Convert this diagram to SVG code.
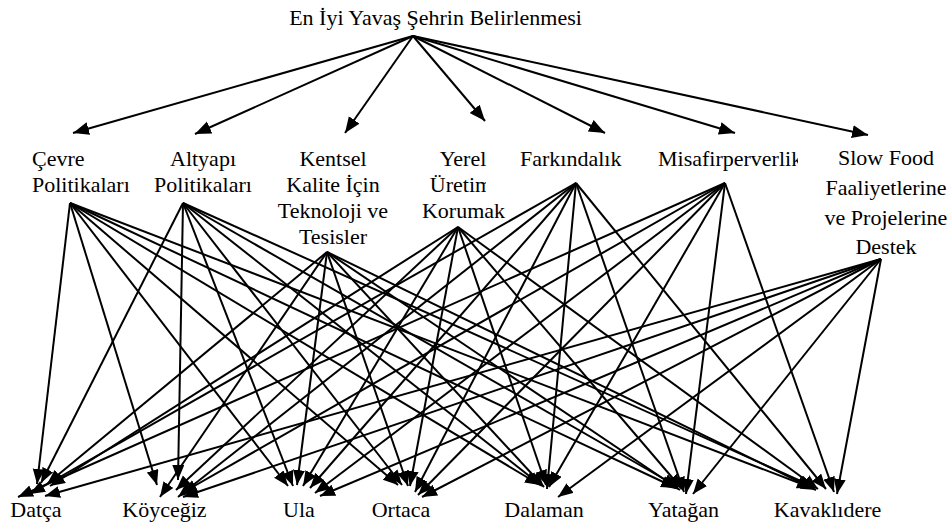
<svg xmlns="http://www.w3.org/2000/svg" width="952" height="529" viewBox="0 0 952 529">
<style>
.txt text{font-family:'Liberation Serif','DejaVu Serif',serif;font-size:22px;fill:#000}
.c{text-anchor:middle}
.e line{stroke:#000;stroke-width:2;fill:none}
.t{marker-end:url(#ahT)}
.b{marker-end:url(#ahB)}
</style>
<defs>
<marker id="ahT" markerUnits="userSpaceOnUse" markerWidth="18" markerHeight="14" refX="16" refY="6.5" orient="auto"><path d="M0,0 L16,6.5 L0,13 z" fill="#000"/></marker>
<marker id="ahB" markerUnits="userSpaceOnUse" markerWidth="17" markerHeight="13" refX="15" refY="6" orient="auto"><path d="M0,0 L15,6 L0,12 z" fill="#000"/></marker>
<clipPath id="clipY"><rect x="400" y="140" width="86" height="120"/></clipPath>
<clipPath id="clipM"><rect x="640" y="140" width="158" height="40"/></clipPath>
</defs>
<rect width="952" height="529" fill="#fff"/>
<g class="txt" font-family="Liberation Serif, serif" font-size="22">
<g id="goal"><text class="c" x="435.5" y="25">En İyi Yavaş Şehrin Belirlenmesi</text></g>
<g id="c1"><text x="32" y="166">Çevre</text><text x="32" y="192">Politikaları</text></g>
<g id="c2"><text class="c" x="203" y="166">Altyapı</text><text class="c" x="203" y="192">Politikaları</text></g>
<g id="c3"><text class="c" x="333" y="166">Kentsel</text><text class="c" x="333" y="192">Kalite İçin</text><text class="c" x="333" y="218">Teknoloji ve</text><text class="c" x="333" y="244">Tesisler</text></g>
<g id="c4"><text class="c" x="463" y="166">Yerel</text><text class="c" x="461" y="192" clip-path="url(#clipY)">Üretim</text><text class="c" x="463.5" y="218">Korumak</text></g>
<g id="c5"><text x="520" y="166">Farkındalık</text></g>
<g id="c6"><text x="658" y="166" clip-path="url(#clipM)">Misafirperverlik</text></g>
<g id="c7"><text class="c" x="886" y="165">Slow Food</text><text class="c" x="886" y="195">Faaliyetlerine</text><text class="c" x="886" y="225">ve Projelerine</text><text class="c" x="886" y="254">Destek</text></g>
<g id="a1"><text class="c" x="36" y="517">Datça</text></g>
<g id="a2"><text class="c" x="164.5" y="517">Köyceğiz</text></g>
<g id="a3"><text class="c" x="299" y="517">Ula</text></g>
<g id="a4"><text class="c" x="401" y="517">Ortaca</text></g>
<g id="a5"><text class="c" x="544" y="517">Dalaman</text></g>
<g id="a6"><text class="c" x="683.5" y="517">Yatağan</text></g>
<g id="a7"><text class="c" x="827.5" y="517">Kavaklıdere</text></g>
</g>
<g id="edges" class="e">
<line class="t" x1="413" y1="36" x2="73" y2="133"/>
<line class="t" x1="413" y1="36" x2="195" y2="134"/>
<line class="t" x1="413" y1="36" x2="345" y2="133"/>
<line class="t" x1="413" y1="36" x2="485" y2="121"/>
<line class="t" x1="413" y1="36" x2="605" y2="133"/>
<line class="t" x1="413" y1="36" x2="735" y2="133"/>
<line class="t" x1="413" y1="36" x2="868" y2="135"/>
<line class="b" x1="70" y1="203" x2="37" y2="484"/>
<line class="b" x1="70" y1="203" x2="157" y2="485"/>
<line class="b" x1="70" y1="203" x2="288" y2="486"/>
<line class="b" x1="70" y1="203" x2="398" y2="485"/>
<line class="b" x1="70" y1="203" x2="540" y2="485"/>
<line class="b" x1="70" y1="203" x2="676" y2="488"/>
<line class="b" x1="70" y1="203" x2="812" y2="488"/>
<line class="b" x1="183" y1="203" x2="41" y2="483"/>
<line class="b" x1="183" y1="203" x2="178" y2="480"/>
<line class="b" x1="183" y1="203" x2="293" y2="486"/>
<line class="b" x1="183" y1="203" x2="402" y2="485"/>
<line class="b" x1="183" y1="203" x2="542" y2="486"/>
<line class="b" x1="183" y1="203" x2="678" y2="487"/>
<line class="b" x1="183" y1="203" x2="814" y2="487"/>
<line class="b" x1="327" y1="252" x2="47" y2="484"/>
<line class="b" x1="327" y1="252" x2="160" y2="497"/>
<line class="b" x1="327" y1="252" x2="297" y2="485"/>
<line class="b" x1="327" y1="252" x2="408" y2="486"/>
<line class="b" x1="327" y1="252" x2="544" y2="487"/>
<line class="b" x1="327" y1="252" x2="680" y2="490"/>
<line class="b" x1="327" y1="252" x2="816" y2="490"/>
<line class="b" x1="458" y1="227" x2="50" y2="486"/>
<line class="b" x1="458" y1="227" x2="176" y2="490"/>
<line class="b" x1="458" y1="227" x2="303" y2="486"/>
<line class="b" x1="458" y1="227" x2="410" y2="486"/>
<line class="b" x1="458" y1="227" x2="546" y2="485"/>
<line class="b" x1="458" y1="227" x2="682" y2="489"/>
<line class="b" x1="458" y1="227" x2="818" y2="489"/>
<line class="b" x1="576" y1="183" x2="30" y2="494"/>
<line class="b" x1="576" y1="183" x2="178" y2="497"/>
<line class="b" x1="576" y1="183" x2="310" y2="488"/>
<line class="b" x1="576" y1="183" x2="415" y2="492"/>
<line class="b" x1="576" y1="183" x2="547" y2="489"/>
<line class="b" x1="576" y1="183" x2="684" y2="492"/>
<line class="b" x1="576" y1="183" x2="826" y2="489"/>
<line class="b" x1="725" y1="183" x2="18" y2="497"/>
<line class="b" x1="725" y1="183" x2="182" y2="493"/>
<line class="b" x1="725" y1="183" x2="315" y2="493"/>
<line class="b" x1="725" y1="183" x2="418" y2="495"/>
<line class="b" x1="725" y1="183" x2="549" y2="487"/>
<line class="b" x1="725" y1="183" x2="686" y2="494"/>
<line class="b" x1="725" y1="183" x2="834" y2="492"/>
<line class="b" x1="881" y1="259" x2="45" y2="496"/>
<line class="b" x1="881" y1="259" x2="183" y2="497"/>
<line class="b" x1="881" y1="259" x2="320" y2="496"/>
<line class="b" x1="881" y1="259" x2="422" y2="497"/>
<line class="b" x1="881" y1="259" x2="558" y2="497"/>
<line class="b" x1="881" y1="259" x2="693" y2="494"/>
<line class="b" x1="881" y1="259" x2="837" y2="494"/>
</g>
</svg>
